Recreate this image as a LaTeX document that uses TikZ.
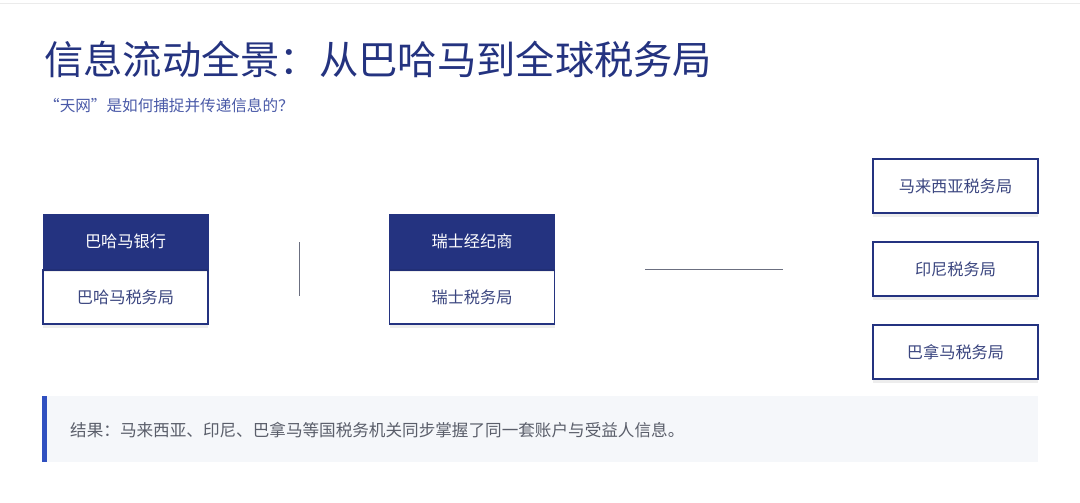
\documentclass[tikz,border=0pt]{standalone}
\usepackage{fontspec}
\setmainfont{Noto Sans CJK SC}
\newfontfamily\cjk{Noto Sans CJK SC}
\usetikzlibrary{shadows}
\definecolor{navy}{HTML}{243380}
\definecolor{subblue}{HTML}{4A5AA8}
\definecolor{linegray}{HTML}{6B6F80}
\definecolor{panel}{HTML}{F5F7FA}
\definecolor{accent}{HTML}{3050C0}
\definecolor{bodygray}{HTML}{5A5E6A}
\tikzset{
  boxbase/.style={minimum width=165pt, minimum height=54pt, inner sep=0pt, font=\cjk\fontsize{16.2pt}{16.2pt}\selectfont,
    drop shadow={shadow xshift=0pt, shadow yshift=-4pt, opacity=0.07, fill=black}},
  darkbox/.style={boxbase, fill=navy, draw=navy, text=white},
  lightbox/.style={boxbase, fill=white, draw=navy, line width=1.2pt, text=navy!75!gray},
  conn/.style={draw=linegray, line width=1pt}
}
\begin{document}
\begin{tikzpicture}[x=1pt,y=-1pt]
\useasboundingbox[fill=white] (0,0) rectangle (1080,503);
\draw[black!8, line width=1pt] (0,4) -- (1080,4);
\node[anchor=base west, inner sep=0pt, text=navy, font=\cjk\fontsize{39.3pt}{39.3pt}\selectfont] (title) at (44,75) {信息流动全景：从巴哈马到全球税务局};
\node[anchor=base west, inner sep=0pt, text=subblue, font=\cjk\fontsize{15.6pt}{15.6pt}\selectfont] (sub) at (44,111) {“天网”是如何捕捉并传递信息的？};
% left column
\node[lightbox] (bstax) at (125.5,297) {巴哈马税务局};
\node[darkbox] (bsbank) at (125.5,241) {巴哈马银行};
% middle column
\node[lightbox] (chtax) at (472,297) {瑞士税务局};
\node[darkbox] (chbrk) at (472,241) {瑞士经纪商};
% connectors
\coordinate (v1) at (299,242);
\coordinate (v2) at (299,296);
\draw[conn] (v1) -- (v2);
\coordinate (h1) at (645,269);
\coordinate (h2) at (783,269);
\draw[conn] (h1) -- (h2);
% right column
\node[lightbox] (my) at (955.5,186) {马来西亚税务局};
\node[lightbox] (id) at (955.5,269) {印尼税务局};
\node[lightbox] (pa) at (955.5,352) {巴拿马税务局};
% result panel
\fill[panel] (43,396) rectangle (1038,462);
\fill[accent] (42,396) rectangle (47,462);
\node[anchor=west, inner sep=0pt, text=bodygray, font=\cjk\fontsize{16.6pt}{16.6pt}\selectfont] (res) at (70,430) {结果：马来西亚、印尼、巴拿马等国税务机关同步掌握了同一套账户与受益人信息。};
\end{tikzpicture}
\end{document}
